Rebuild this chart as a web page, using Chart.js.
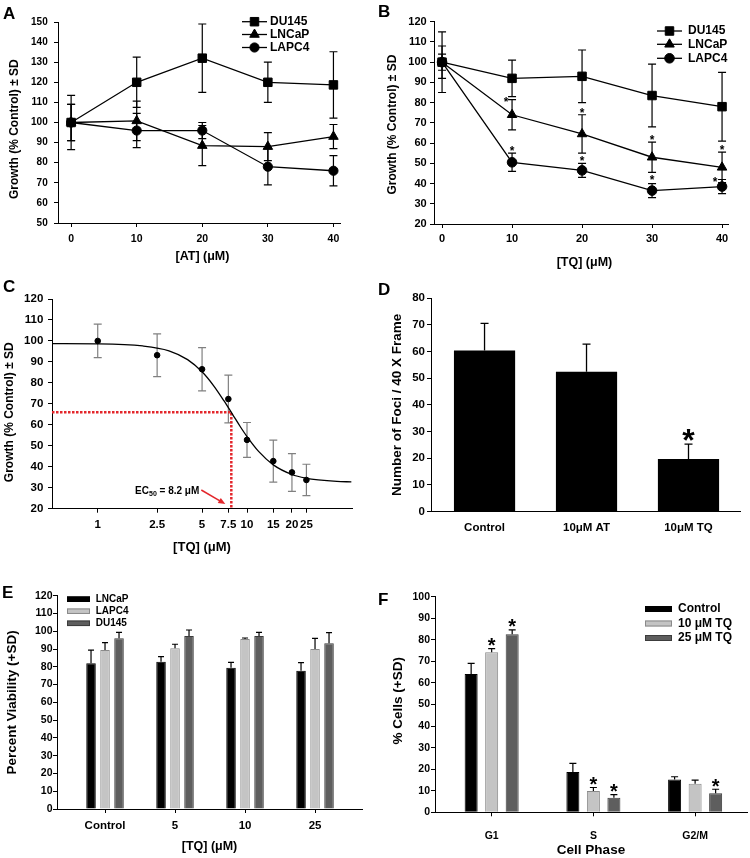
<!DOCTYPE html>
<html>
<head>
<meta charset="utf-8">
<script src="https://cdn.jsdelivr.net/npm/chart.js@4.4.1/dist/chart.umd.min.js"></script>
<style>
  html, body { margin: 0; padding: 0; background: #fff; }
  #fig { position: relative; width: 750px; height: 858px; background: #fff; overflow: hidden; }
  #fig canvas { position: absolute; }
</style>
</head>
<body>
<div id="fig"></div>
<script>
// ---- data ----

// A: growth vs AT dose
var atDoses = [0, 10, 20, 30, 40];
var atDU145 = [100, 120, 132, 120, 118.7];
var atDU145Sd = [13.5, 12.5, 17, 10, 16.5];
var atLNCaP = [100, 100.8, 88.5, 88, 93];
var atLNCaPSd = [9, 9.8, 10, 7, 6];
var atLAPC4 = [100, 96, 96, 78, 76];
var atLAPC4Sd = [9, 8.5, 4, 9, 7.5];

// B: growth vs TQ dose
var tqDoses = [0, 10, 20, 30, 40];
var tqDU145 = [100, 92, 93, 83.5, 78];
var tqDU145Sd = [15, 9, 13, 15.5, 17];
var tqLNCaP = [100, 74, 64.5, 53, 48];
var tqLNCaPSd = [8, 7.5, 9.5, 7.5, 7.5];
var tqLAPC4 = [100, 50.5, 46.5, 36.5, 38.5];
var tqLAPC4Sd = [4, 4.5, 3.5, 3.5, 3.5];

// C: dose response (log x) and the fitted curve
var doseC = [1, 2.5, 5, 7.5, 10, 15, 20, 25];
var doseTicksC = [1, 2.5, 5, 7.5, 10, 15, 20, 25];
var growthC = [100, 93.2, 86.5, 72.3, 52.8, 42.7, 37.3, 33.7];
var growthCSd = [8, 10.2, 10.3, 11.4, 8.3, 10, 9, 7.5];
var fitX = [0.5, 1, 2, 3, 4, 5, 6, 7, 8, 9, 10, 12, 15, 20, 25, 30, 40, 50];
var fitY = [98.7, 98.6, 97.6, 95.3, 91.1, 85.3, 78.5, 71.5, 65.0, 59.2, 54.4, 47.2, 40.9, 36.3, 34.5, 33.7, 33.0, 32.8];
var ec50Guide = [7.85, 66];
var ec50Text = '8.2 \u03bcM';

// D: foci counts
var fociLabels = ['Control', '10\u03bcM AT', '10\u03bcM TQ'];
var fociCounts = [60.3, 52.4, 19.7];
var fociSd = [10.2, 10.3, 5.6];

// E: viability
var viabLabels = ['Control', '5', '10', '25'];
var viabLNCaP = [82, 82.9, 79.5, 77.8];
var viabLNCaPSd = [7.4, 2.8, 3, 4.5];
var viabLAPC4 = [89.5, 90.4, 95.6, 90];
var viabLAPC4Sd = [4.1, 2.3, 0.6, 6];
var viabDU145 = [96, 97.3, 97.3, 93.2];
var viabDU145Sd = [3.4, 3.4, 2.1, 6];

// F: cell cycle
var phaseLabels = ['G1', 'S', 'G2/M'];
var phaseControl = [64.1, 18.7, 15.2];
var phaseControlSd = [5, 4, 1.3];
var phaseTQ10 = [74.2, 9.9, 13.3];
var phaseTQ10Sd = [1.7, 1.6, 1.6];
var phaseTQ25 = [82.6, 6.7, 8.8];
var phaseTQ25Sd = [2, 1.5, 1.9];

// ---- helpers ----
var FONT = '"Liberation Sans", Arial, Helvetica, sans-serif';
var RED = '#e3262b';
Chart.defaults.font.family = FONT;
Chart.defaults.color = '#000';

function pts(xs, ys) {
  return xs.map(function (x, i) { return { x: x, y: ys[i] }; });
}

function axis(size, pad, ticksOn) {
  return {
    border: { color: '#000', width: 1 },
    grid: { drawOnChartArea: false, drawTicks: ticksOn !== false, tickLength: 4, tickColor: '#000', offset: false },
    ticks: { color: '#000', padding: pad, autoSkip: false, maxRotation: 0,
             font: { family: FONT, weight: 'bold', size: size } }
  };
}

function titled(ax, text, size, pad) {
  ax.title = { display: true, text: text, color: '#000', padding: pad,
               font: { family: FONT, weight: 'bold', size: size } };
  return ax;
}

function series(label, data, style, r) {
  return {
    label: label, data: data, borderColor: '#000', backgroundColor: '#000', borderWidth: 1.3,
    pointStyle: style, pointRadius: r, pointBackgroundColor: '#000', pointBorderColor: '#000',
    pointBorderWidth: 1, tension: 0, clip: false
  };
}

function bars(label, data, fill, edge) {
  return { label: label, data: data, backgroundColor: fill, borderColor: edge, borderWidth: 1 };
}

function panel(box, area, cfg) {
  var canvas = document.createElement('canvas');
  canvas.width = box[2];
  canvas.height = box[3];
  canvas.style.left = box[0] + 'px';
  canvas.style.top = box[1] + 'px';
  document.getElementById('fig').appendChild(canvas);
  var o = cfg.options;
  o.responsive = false;
  o.animation = false;
  o.events = [];
  o.layout = { padding: { left: 0, top: area[1] - box[1], right: box[0] + box[2] - area[2], bottom: 0 } };
  o.plugins = { legend: { display: false }, tooltip: { enabled: false } };
  o.scales.x.afterFit = function (s) { s.height = box[1] + box[3] - area[3]; };
  o.scales.y.afterFit = function (s) { s.width = area[0] - box[0]; };
  return new Chart(canvas, cfg);
}

function letter(chart, box, txt, x, y) {
  var ctx = chart.ctx;
  ctx.save();
  ctx.fillStyle = '#000';
  ctx.font = 'bold 17px ' + FONT;
  ctx.textBaseline = 'alphabetic';
  ctx.fillText(txt, x - box[0], y - box[1]);
  ctx.restore();
}

function errs(chart, sdLists, o) {
  var ys = chart.scales.y, ctx = chart.ctx;
  ctx.save();
  ctx.strokeStyle = o.color;
  ctx.lineWidth = o.width;
  sdLists.forEach(function (sds, d) {
    if (!sds) return;
    var data = chart.data.datasets[d].data;
    chart.getDatasetMeta(d).data.forEach(function (el, i) {
      var v = data[i].y, x = el.x;
      var top = ys.getPixelForValue(v + sds[i]);
      var bot = ys.getPixelForValue(o.up ? v : v - sds[i]);
      ctx.beginPath();
      ctx.moveTo(x, top); ctx.lineTo(x, bot);
      ctx.moveTo(x - o.cap, top); ctx.lineTo(x + o.cap, top);
      if (!o.up) { ctx.moveTo(x - o.cap, bot); ctx.lineTo(x + o.cap, bot); }
      ctx.stroke();
    });
  });
  ctx.restore();
}

function star(ctx, x, cy, size) {
  ctx.save();
  ctx.fillStyle = '#000';
  ctx.font = 'bold ' + size + 'px ' + FONT;
  ctx.textAlign = 'center';
  ctx.textBaseline = 'alphabetic';
  ctx.fillText('*', x, cy + 0.57 * size);
  ctx.restore();
}

// marks: [dataset, index, dx, lift]
function stars(chart, marks, sdLists, size, lift) {
  marks.forEach(function (m) {
    var d = m[0], i = m[1];
    var el = chart.getDatasetMeta(d).data[i];
    var v = chart.data.datasets[d].data[i].y + sdLists[d][i];
    var cy = chart.scales.y.getPixelForValue(v) - (m[3] !== undefined ? m[3] : lift);
    star(chart.ctx, el.x + (m[2] || 0), cy, size);
  });
}

function marker(ctx, style, r, x, y) {
  ctx.beginPath();
  if (style === 'rect') {
    var s = r * Math.SQRT1_2;
    ctx.rect(x - s, y - s, 2 * s, 2 * s);
  } else if (style === 'triangle') {
    ctx.moveTo(x, y - r);
    ctx.lineTo(x + 0.866 * r, y + 0.5 * r);
    ctx.lineTo(x - 0.866 * r, y + 0.5 * r);
    ctx.closePath();
  } else {
    ctx.arc(x, y, r, 0, Math.PI * 2);
  }
  ctx.fill();
  ctx.stroke();
}

function lineLegend(chart, box, x0, x1, tx, rows, size) {
  var ctx = chart.ctx;
  chart.data.datasets.forEach(function (ds, i) {
    var y = rows[i] - box[1];
    ctx.save();
    ctx.strokeStyle = '#000';
    ctx.fillStyle = '#000';
    ctx.lineWidth = ds.borderWidth;
    ctx.beginPath();
    ctx.moveTo(x0 - box[0], y); ctx.lineTo(x1 - box[0], y);
    ctx.stroke();
    ctx.lineWidth = 1;
    marker(ctx, ds.pointStyle, ds.pointRadius, (x0 + x1) / 2 - box[0], y);
    ctx.font = 'bold ' + size + 'px ' + FONT;
    ctx.textBaseline = 'middle';
    ctx.fillText(ds.label, tx - box[0], y);
    ctx.restore();
  });
}

function boxLegend(chart, box, x, w, h, tx, rows, size) {
  var ctx = chart.ctx;
  chart.data.datasets.forEach(function (ds, i) {
    var y = rows[i] - box[1];
    ctx.save();
    ctx.fillStyle = ds.backgroundColor;
    ctx.fillRect(x - box[0], y - h / 2, w, h);
    ctx.strokeStyle = ds.borderColor;
    ctx.lineWidth = 1;
    ctx.strokeRect(x - box[0] + 0.5, y - h / 2 + 0.5, w - 1, h - 1);
    ctx.fillStyle = '#000';
    ctx.font = 'bold ' + size + 'px ' + FONT;
    ctx.textBaseline = 'middle';
    ctx.fillText(ds.label, tx - box[0], y);
    ctx.restore();
  });
}

function fixedTicks(values) {
  return function (s) { s.ticks = values.map(function (v) { return { value: v }; }); };
}

function catX(min, max, labels, size, pad, ticksOn) {
  var ax = axis(size, pad, ticksOn);
  ax.type = 'linear';
  ax.min = min;
  ax.max = max;
  ax.offset = false;
  ax.afterBuildTicks = fixedTicks(labels.map(function (l, i) { return i; }));
  ax.ticks.callback = function (v) { return labels[v]; };
  return ax;
}

function valY(min, max, step, size, pad) {
  var ax = axis(size, pad);
  ax.min = min;
  ax.max = max;
  ax.ticks.stepSize = step;
  return ax;
}

// ---- A ----
var boxA = [0, 0, 375, 280];
var xA = axis(10.5, 5.7);
xA.type = 'linear'; xA.min = -2; xA.max = 41; xA.afterBuildTicks = fixedTicks(atDoses);
panel(boxA, [58, 22, 340, 223], {
  type: 'line',
  data: { datasets: [
    series('DU145', pts(atDoses, atDU145), 'rect', 6),
    series('LNCaP', pts(atDoses, atLNCaP), 'triangle', 5.5),
    series('LAPC4', pts(atDoses, atLAPC4), 'circle', 4.6)
  ] },
  options: { scales: {
    // surrounding spaces nudge the centred titles to where they sit in the figure
    x: titled(xA, '  [AT] (\u03bcM)', 12.5, { top: 0, bottom: 15.5 }),
    y: titled(valY(50, 150, 10, 10, 6.3), 'Growth (% Control) \u00b1 SD    ', 12, { top: 7.8, bottom: 0 })
  } },
  plugins: [{
    id: 'decoA',
    beforeDatasetsDraw: function (c) { errs(c, [atDU145Sd, atLNCaPSd, atLAPC4Sd], { color: '#000', width: 1.2, cap: 4 }); },
    afterDraw: function (c) {
      letter(c, boxA, 'A', 3, 19);
      lineLegend(c, boxA, 242, 267, 270, [21.7, 34.5, 47.5], 12);
    }
  }]
});

// ---- B ----
var boxB = [375, 0, 375, 280];
var sdB = [tqDU145Sd, tqLNCaPSd, tqLAPC4Sd];
var xB = axis(11, 4.4);
xB.type = 'linear'; xB.min = -1.15; xB.max = 40.85; xB.afterBuildTicks = fixedTicks(tqDoses);
panel(boxB, [434, 21.7, 728, 224], {
  type: 'line',
  data: { datasets: [
    series('DU145', pts(tqDoses, tqDU145), 'rect', 6),
    series('LNCaP', pts(tqDoses, tqLNCaP), 'triangle', 5.5),
    series('LAPC4', pts(tqDoses, tqLAPC4), 'circle', 4.8)
  ] },
  options: { scales: {
    x: titled(xB, '  [TQ] (\u03bcM)', 12.5, { top: 0, bottom: 9.5 }),
    y: titled(valY(20, 120, 10, 11, 3.3), 'Growth (% Control) \u00b1 SD ', 12, { top: 10.8, bottom: 0 })
  } },
  plugins: [{
    id: 'decoB',
    beforeDatasetsDraw: function (c) { errs(c, sdB, { color: '#000', width: 1.2, cap: 4 }); },
    afterDraw: function (c) {
      letter(c, boxB, 'B', 378, 17);
      lineLegend(c, boxB, 657, 682, 688, [31, 44.3, 58.3], 12);
      stars(c, [[1, 1, -6, 0], [1, 2], [1, 3], [1, 4], [2, 1], [2, 2], [2, 3, 0, 6], [2, 4, -7, 0]], sdB, 12, 4.8);
    }
  }]
});

// ---- C ----
var boxC = [0, 280, 375, 290];
var xC = axis(11.5, 5.4);
xC.type = 'logarithmic'; xC.min = 0.494; xC.max = 50.5;
xC.afterBuildTicks = fixedTicks(doseTicksC);
xC.ticks.callback = function (v) { return String(v); };
panel(boxC, [52, 299, 352, 508.7], {
  type: 'line',
  data: { datasets: [
    { label: 'fit', data: pts(fitX, fitY), borderColor: '#000', borderWidth: 1.3, pointRadius: 0,
      cubicInterpolationMode: 'monotone', clip: false },
    { label: 'TQ', data: pts(doseC, growthC), showLine: false, pointStyle: 'circle', pointRadius: 2.8,
      pointBackgroundColor: '#000', pointBorderColor: '#000', clip: false }
  ] },
  options: { scales: {
    x: titled(xC, '[TQ] (\u03bcM)', 13, { top: 0, bottom: 15.2 }),
    y: titled(valY(20, 120, 10, 11.5, 4.7), 'Growth (% Control) \u00b1 SD     ', 12, { top: 2.8, bottom: 0 })
  } },
  plugins: [{
    id: 'decoC',
    beforeDatasetsDraw: function (c) {
      errs(c, [null, growthCSd], { color: '#808080', width: 1.2, cap: 4 });
      var ctx = c.ctx, xs = c.scales.x, ys = c.scales.y;
      var gx = xs.getPixelForValue(ec50Guide[0]), gy = ys.getPixelForValue(ec50Guide[1]);
      ctx.save();
      ctx.strokeStyle = RED;
      ctx.lineWidth = 2.5;
      ctx.setLineDash([2.5, 1.5]);
      ctx.beginPath();
      ctx.moveTo(xs.left, gy); ctx.lineTo(gx, gy); ctx.lineTo(gx, ys.bottom - 1);
      ctx.stroke();
      ctx.restore();
    },
    afterDraw: function (c) {
      letter(c, boxC, 'C', 3, 292);
      var ctx = c.ctx, xs = c.scales.x, ys = c.scales.y;
      var gx = xs.getPixelForValue(ec50Guide[0]);
      var tipX = gx - 6, tipY = ys.bottom - 4.7, sx = tipX - 24, sy = tipY - 14;
      ctx.save();
      ctx.strokeStyle = RED; ctx.fillStyle = RED; ctx.lineWidth = 1.5;
      ctx.beginPath(); ctx.moveTo(sx, sy); ctx.lineTo(tipX - 5, tipY - 2.9); ctx.stroke();
      var ang = Math.atan2(tipY - sy, tipX - sx);
      ctx.beginPath();
      ctx.moveTo(tipX, tipY);
      ctx.lineTo(tipX - 7 * Math.cos(ang) + 3 * Math.sin(ang), tipY - 7 * Math.sin(ang) - 3 * Math.cos(ang));
      ctx.lineTo(tipX - 7 * Math.cos(ang) - 3 * Math.sin(ang), tipY - 7 * Math.sin(ang) + 3 * Math.cos(ang));
      ctx.closePath(); ctx.fill();
      // label "EC50 = 8.2 uM" ending just left of the arrow tail
      ctx.fillStyle = '#000';
      var big = 'bold 10px ' + FONT, small = 'bold 7px ' + FONT, rest = ' = ' + ec50Text;
      ctx.font = big; var w1 = ctx.measureText('EC').width, w3 = ctx.measureText(rest).width;
      ctx.font = small; var w2 = ctx.measureText('50').width;
      var x0 = sx - 2 - (w1 + w2 + w3), base = sy + 3.5;
      ctx.textBaseline = 'alphabetic';
      ctx.font = big; ctx.fillText('EC', x0, base);
      ctx.font = small; ctx.fillText('50', x0 + w1, base + 2.5);
      ctx.font = big; ctx.fillText(rest, x0 + w1 + w2, base);
      ctx.restore();
    }
  }]
});

// ---- D ----
var boxD = [375, 280, 375, 290];
var sdD = [fociSd];
panel(boxD, [431, 298, 740, 511.7], {
  type: 'bar',
  data: { datasets: [
    { label: 'Foci', data: pts([0, 1, 2], fociCounts), backgroundColor: '#000', borderWidth: 0,
      categoryPercentage: 0.6, barPercentage: 1 }
  ] },
  options: { scales: {
    x: catX(-0.525, 2.505, fociLabels, 11.5, 9.7, false),
    y: titled(valY(0, 80, 10, 11.5, 2), 'Number of Foci / 40 X Frame', 13.5, { top: 13.9, bottom: 0 })
  } },
  plugins: [{
    id: 'decoD',
    afterDatasetsDraw: function (c) {
      errs(c, sdD, { color: '#000', width: 1.3, cap: 4, up: true });
      stars(c, [[0, 2]], sdD, 32, 11);
    },
    afterDraw: function (c) { letter(c, boxD, 'D', 378, 295); }
  }]
});

// ---- E ----
var boxE = [0, 570, 375, 288];
var sdE = [viabLNCaPSd, viabLAPC4Sd, viabDU145Sd];
var catE = [0, 1, 2, 3];
var optE = { categoryPercentage: 0.6, barPercentage: 0.68 };
panel(boxE, [57, 595.7, 362, 809], {
  type: 'bar',
  data: { datasets: [
    Object.assign(bars('LNCaP', pts(catE, viabLNCaP), '#000', '#000'), optE),
    Object.assign(bars('LAPC4', pts(catE, viabLAPC4), '#c4c4c4', '#8a8a8a'), optE),
    Object.assign(bars('DU145', pts(catE, viabDU145), '#5e5e5e', '#3c3c3c'), optE)
  ] },
  options: { scales: {
    x: titled(catX(-0.686, 3.671, viabLabels, 11.5, 6.1), '[TQ] (\u03bcM)', 12.5, { top: 0, bottom: 3.5 }),
    y: titled(valY(0, 120, 10, 10.5, 0.5), 'Percent Viability (+SD)', 13.5, { top: 3.9, bottom: 0 })
  } },
  plugins: [{
    id: 'decoE',
    afterDatasetsDraw: function (c) { errs(c, sdE, { color: '#000', width: 1.2, cap: 3, up: true }); },
    afterDraw: function (c) {
      letter(c, boxE, 'E', 2, 598);
      boxLegend(c, boxE, 67, 23, 5.5, 95.7, [599.2, 611.2, 623.3], 10);
    }
  }]
});

// ---- F ----
var boxF = [375, 570, 375, 288];
var sdF = [phaseControlSd, phaseTQ10Sd, phaseTQ25Sd];
var catF = [0, 1, 2];
var optF = { categoryPercentage: 0.605, barPercentage: 0.634 };
panel(boxF, [435, 596.7, 747, 812.3], {
  type: 'bar',
  data: { datasets: [
    Object.assign(bars('Control', pts(catF, phaseControl), '#000', '#000'), optF),
    Object.assign(bars('10 \u03bcM TQ', pts(catF, phaseTQ10), '#c4c4c4', '#8a8a8a'), optF),
    Object.assign(bars('25 \u03bcM TQ', pts(catF, phaseTQ25), '#5e5e5e', '#3c3c3c'), optF)
  ] },
  options: { scales: {
    x: titled(catX(-0.557, 2.51, phaseLabels, 10.5, 14), 'Cell Phase', 13.5, { top: 0, bottom: 0 }),
    y: titled(valY(0, 100, 10, 10.5, 1), '  % Cells (+SD)', 13.5, { top: 14.9, bottom: 0 })
  } },
  plugins: [{
    id: 'decoF',
    afterDatasetsDraw: function (c) {
      errs(c, sdF, { color: '#000', width: 1.2, cap: 3.5, up: true });
      stars(c, [[1, 0], [2, 0], [1, 1], [2, 1], [2, 2]], sdF, 20, 8);
    },
    afterDraw: function (c) {
      letter(c, boxF, 'F', 378, 605);
      boxLegend(c, boxF, 645, 27, 6, 678, [609, 623.5, 638], 12);
    }
  }]
});
</script>
</body>
</html>
